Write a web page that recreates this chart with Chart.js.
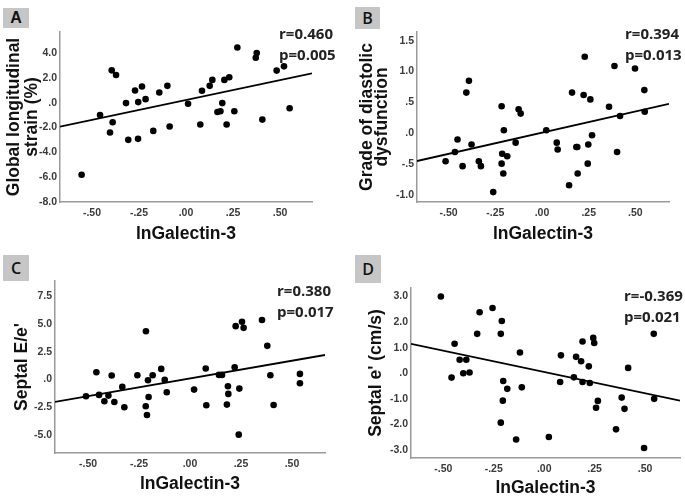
<!DOCTYPE html>
<html>
<head>
<meta charset="utf-8">
<script src="https://cdn.jsdelivr.net/npm/chart.js@4.4.1/dist/chart.umd.min.js"></script>
<style>
  body { margin: 0; width: 685px; height: 496px; overflow: hidden; background: #fff; position: relative; }
  canvas { position: absolute; }
  .badge { position: absolute; background: #c6c6c6; color: #111; text-align: center;
           font-family: "Liberation Sans", Arial, sans-serif; font-weight: bold; font-size: 16px; }
  .stat { position: absolute; font-family: "Open Sans", sans-serif; font-weight: bold;
          font-size: 15px; line-height: 20.5px; color: #222; white-space: nowrap; }
</style>
</head>
<body>
<canvas id="chartA" width="340" height="248" style="left:0;top:0"></canvas>
<canvas id="chartB" width="345" height="248" style="left:340px;top:0"></canvas>
<canvas id="chartC" width="340" height="248" style="left:0;top:248px"></canvas>
<canvas id="chartD" width="345" height="248" style="left:340px;top:248px"></canvas>

<div class="badge" style="left:3px;top:8px;width:26px;height:20px;line-height:20px">A</div>
<div class="badge" style="left:355px;top:7px;width:25px;height:22px;line-height:22px;font-weight:600;font-family:'Open Sans',sans-serif">B</div>
<div class="badge" style="left:3px;top:255px;width:26px;height:26px;line-height:26px;font-weight:600;font-family:'Open Sans',sans-serif">C</div>
<div class="badge" style="left:355px;top:255px;width:26px;height:28px;line-height:28px;font-weight:600;font-family:'Open Sans',sans-serif">D</div>

<div class="stat" id="statA" style="left:279px;top:23px"></div>
<div class="stat" id="statB" style="left:625px;top:23px"></div>
<div class="stat" id="statC" style="left:277px;top:280px"></div>
<div class="stat" id="statD" style="left:624px;top:285px"></div>

<script>
// values
const xTicks = [-0.5, -0.25, 0, 0.25, 0.5];

const xA = [-0.555, -0.457, -0.395, -0.372, -0.390, -0.404, -0.319, -0.307, -0.271, -0.254, -0.255, -0.234,
            -0.215, -0.174, -0.142, -0.099, -0.087, 0.011, 0.076, 0.085, 0.126, 0.140, 0.167, 0.183,
            0.193, 0.204, 0.216, 0.230, 0.257, 0.273, 0.371, 0.376, 0.406, 0.482, 0.521, 0.551];
const yA = [-5.81, -0.99, 2.61, 2.24, -1.57, -2.40, -0.03, -2.99, 0.99, 0.05, -2.91, 1.31,
            0.29, -2.27, 0.83, 1.36, -1.92, -0.08, -1.76, 0.96, 1.36, 1.84, -0.75, -0.69,
            -0.03, 1.84, -1.76, 2.05, -0.69, 4.45, 3.63, 4.00, -1.36, 2.59, 2.93, -0.45];
const yTicksA = [-8, -6, -4, -2, 0, 2, 4];

const xB = [-0.516, -0.466, -0.452, -0.425, -0.405, -0.391, -0.377, -0.338, -0.327, -0.261, -0.216, -0.216,
            -0.213, -0.207, -0.204, -0.186, -0.141, -0.125, -0.114, 0.023, 0.079, 0.084, 0.145, 0.161,
            0.184, 0.189, 0.191, 0.223, 0.229, 0.245, 0.248, 0.259, 0.268, 0.359, 0.388, 0.402,
            0.418, 0.498, 0.548, 0.550];
const yB = [-0.45, -0.30, -0.10, -0.53, 0.66, 0.85, -0.18, -0.45, -0.53, -0.95, 0.44, -0.49,
            -0.33, -0.65, 0.05, -0.37, -0.15, 0.39, 0.32, 0.05, -0.15, -0.26, -0.84, 0.66,
            -0.22, -0.22, -0.65, 0.62, 1.24, -0.49, -0.18, 0.55, -0.03, 0.43, 1.09, -0.30,
            0.28, 1.05, 0.70, 0.35];
const yTicksB = [-1, -0.5, 0, 0.5, 1, 1.5];

const xC = [-0.510, -0.459, -0.446, -0.420, -0.400, -0.384, -0.371, -0.332, -0.322, -0.258, -0.216, -0.217,
            -0.211, -0.206, -0.203, -0.183, -0.141, -0.124, -0.114, 0.020, 0.077, 0.080, 0.142, 0.157,
            0.181, 0.186, 0.188, 0.219, 0.224, 0.242, 0.239, 0.255, 0.263, 0.353, 0.379, 0.394,
            0.410, 0.539, 0.539];
const yC = [-1.50, 0.66, -1.38, -1.95, -1.44, 0.36, -2.01, -0.66, -2.49, 0.39, 4.35, -2.40,
            -3.18, -0.06, -1.56, 0.39, 0.96, -0.03, -1.14, -0.90, 0.99, -2.31, 0.42, 0.42,
            -2.25, -0.60, -1.29, 1.11, 4.80, -0.81, -4.95, 5.20, 4.65, 5.35, 3.03, 0.39,
            -2.28, 0.51, -0.33];
const yTicksC = [-5, -2.5, 0, 2.5, 5, 7.5];

const xD = [-0.512, -0.459, -0.444, -0.419, -0.401, -0.386, -0.370, -0.332, -0.320, -0.256, -0.215, -0.210,
            -0.215, -0.203, -0.205, -0.183, -0.139, -0.120, -0.111, 0.023, 0.079, 0.083, 0.147, 0.158,
            0.183, 0.190, 0.190, 0.221, 0.226, 0.243, 0.248, 0.257, 0.266, 0.356, 0.384, 0.398,
            0.416, 0.495, 0.543, 0.545];
const yD = [3.00, -0.17, 1.15, 0.53, 0.00, 0.53, 0.03, 1.54, 2.38, 2.55, 1.54, 2.04,
            -1.93, -0.30, -1.07, -0.61, -2.59, 0.81, -0.55, -2.49, -0.34, 0.70, -0.16, 0.64,
            0.47, 1.24, -0.34, 0.27, -0.38, 1.38, 1.18, -1.35, -1.08, -2.19, -0.95, -1.39,
            0.21, -2.92, 1.54, -1.00];
const yTicksD = [-3, -2, -1, 0, 1, 2, 3];

// fitted lines, y = slope * x + intercept
const fitSlope = [3.20, 0.685, 3.19, -1.665];
const fitIntercept = [0.22, 0.011, 0.10, 0.051];

const rText = ['r=0.460', 'r=0.394', 'r=0.380', 'r=-0.369'];
const pText = ['p=0.005', 'p=0.013', 'p=0.017', 'p=0.021'];

const xTitle = 'lnGalectin-3';
const yTitles = [['Global longitudinal', 'strain (%)'], ['Grade of diastolic', 'dysfunction'], "Septal E/e'", "Septal e' (cm/s)"];

// strip the leading zero like SPSS does: .50, -.25, .0
function spss(v, d) {
  let s = Math.abs(v).toFixed(d);
  if (s.startsWith('0.')) s = s.slice(1);
  return (v < 0 ? '-' : '') + s;
}

const tickFont = { family: '"Liberation Sans", Arial, sans-serif', size: 10.5, weight: 'bold' };

function makeChart(id, idx, xs, ys, yTicks, box) {
  const pts = xs.map((x, i) => ({ x: x, y: ys[i] }));
  const line = [box.xmin, box.xmax].map(x => ({ x: x, y: fitSlope[idx] * x + fitIntercept[idx] }));
  new Chart(document.getElementById(id), {
    type: 'scatter',
    data: {
      datasets: [
        { data: pts, backgroundColor: '#000', borderWidth: 0, pointRadius: 3.3 },
        { type: 'line', data: line, borderColor: '#000', borderWidth: 1.8, pointRadius: 0, fill: false }
      ]
    },
    options: {
      responsive: false,
      animation: false,
      layout: { padding: { top: box.top, right: box.right, left: 0, bottom: 0 } },
      plugins: { legend: { display: false }, tooltip: { enabled: false } },
      scales: {
        x: {
          type: 'linear', min: box.xmin, max: box.xmax,
          afterBuildTicks: s => { s.ticks = xTicks.map(v => ({ value: v })); },
          afterFit: s => { s.height = box.xh; },
          grid: { display: false, drawTicks: false },
          border: { display: true, color: '#9a9a9a', width: 1.5 },
          ticks: { font: tickFont, color: '#3a3a3a', padding: 5, maxRotation: 0, callback: v => spss(v, 2) },
          title: { display: true, text: xTitle, color: '#111',
                   font: { family: '"Liberation Sans", Arial, sans-serif', size: 17.5, weight: 'bold', lineHeight: 1.15 },
                   padding: { top: 0, bottom: box.xtpad } }
        },
        y: {
          type: 'linear', min: box.ymin, max: box.ymax,
          afterBuildTicks: s => { s.ticks = yTicks.map(v => ({ value: v })); },
          afterFit: s => { s.width = box.yw; },
          grid: { display: false, drawTicks: false },
          border: { display: true, color: '#9a9a9a', width: 1.5 },
          ticks: { font: tickFont, color: '#3a3a3a', padding: 3, callback: v => spss(v, 1) },
          title: { display: true, text: yTitles[idx], color: '#111',
                   font: { family: '"Liberation Sans", Arial, sans-serif', size: 17.5, weight: 'bold', lineHeight: box.ylh },
                   padding: { top: box.ytpad, bottom: 0 } }
        }
      }
    }
  });
  document.getElementById('stat' + id.slice(-1)).innerHTML = rText[idx] + '<br>' + pText[idx];
}

makeChart('chartA', 0, xA, yA, yTicksA,
  { xmin: -0.67, xmax: 0.67, ymin: -8, ymax: 5.7, top: 32, right: 28, yw: 60, xh: 46, xtpad: 4, ylh: 18 / 17.5, ytpad: 5 });
makeChart('chartB', 1, xB, yB, yTicksB,
  { xmin: -0.669, xmax: 0.68, ymin: -1.11, ymax: 1.64, top: 32, right: 16, yw: 77, xh: 46, xtpad: 4, ylh: 15 / 17.5, ytpad: 19.5 });
makeChart('chartC', 2, xC, yC, yTicksC,
  { xmin: -0.662, xmax: 0.662, ymin: -6.6, ymax: 8.86, top: 33, right: 15, yw: 55, xh: 43, xtpad: 2, ylh: 1.15, ytpad: 12 });
makeChart('chartD', 3, xD, yD, yTicksD,
  { xmin: -0.66, xmax: 0.673, ymin: -3.31, ymax: 3.33, top: 40, right: 5, yw: 71, xh: 38, xtpad: -2, ylh: 1.15, ytpad: 26 });
</script>
</body>
</html>
